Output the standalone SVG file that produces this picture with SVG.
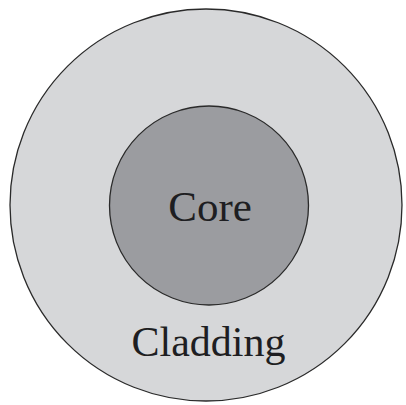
<svg xmlns="http://www.w3.org/2000/svg" width="406" height="405" viewBox="0 0 406 405">
<style>
.ring{stroke:#2a2a2a;stroke-width:1.3}
.lbl{font-family:"Liberation Serif","Times New Roman",serif;fill:#1e1e22;text-anchor:middle}
</style>
<rect width="406" height="405" fill="#ffffff"/>
<g id="cladding">
<circle class="ring" cx="206" cy="205" r="196" fill="#d6d7d9"/>
<text class="lbl" x="208.5" y="356" font-size="42">Cladding</text>
</g>
<g id="core">
<circle class="ring" cx="209" cy="205.5" r="99.5" fill="#9b9ca0"/>
<text class="lbl" x="210" y="221" font-size="43">Core</text>
</g>
<g id="connectors"/>
</svg>
